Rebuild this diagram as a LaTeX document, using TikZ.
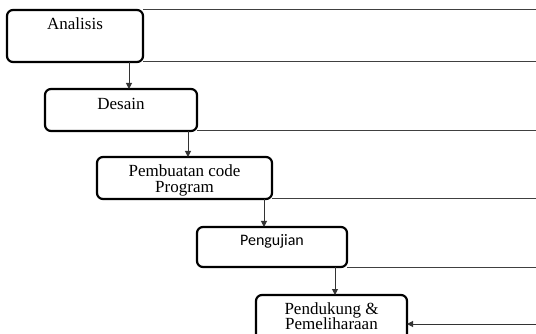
\documentclass[tikz,border=0pt]{standalone}
\usepackage{fontspec}
\setmainfont{Liberation Serif}
\newfontfamily\calibrifont{Carlito}
\usetikzlibrary{arrows.meta}

\begin{document}
\begin{tikzpicture}[x=1pt, y=-1pt,
	stage/.style={draw=black, line width=2.2pt, rounded corners=6pt,
		anchor=north west, inner xsep=0pt, inner ysep=0pt, outer sep=0pt,
		align=center, font=\fontsize{17}{15.5}\selectfont},
	rail/.style={draw=black!75, line width=1pt},
	flow/.style={draw=black!80, line width=1pt,
		-{Triangle[length=6pt, width=6pt]}}]
			\useasboundingbox (0,0) rectangle (536,334);
			\coordinate (edge) at (536,0);
			\coordinate (back) at (536,324);
			
			% the five stages
			\node[stage, minimum width=136pt, text height=20pt, text depth=32pt]
			(ana) at (7,10) {Analisis};
			\node[stage, minimum width=152pt, text height=21pt, text depth=21pt]
			(des) at (45,89) {Desain};
			\node[stage, minimum width=175pt, text height=35.5pt, text depth=6.5pt]
			(prog) at (97,157) {Pembuatan code\\Program};
			\node[stage, minimum width=150pt, text height=18pt, text depth=22pt,
			font=\calibrifont\fontsize{16}{16}\selectfont]
			(uji) at (197,227) {Pengujian};
			\node[stage, minimum width=151pt, text height=34.5pt, text depth=16pt]
			(pel) at (256,295) {Pendukung \&\\Pemeliharaan};
			
			% rails to the right edge
			\draw[rail] (ana.north east) -- (ana.north east -| edge);
			\draw[rail] (ana.south east) -- (ana.south east -| edge);
			\draw[rail] (des.south east) -- (des.south east -| edge);
			\draw[rail] (prog.south east) -- (prog.south east -| edge);
			\draw[rail] (uji.south east) -- (uji.south east -| edge);
			
			% arrows down the steps
			\draw[flow] ([xshift=-14pt]ana.south east) -- ([xshift=-14pt]ana.south east |- des.north);
			\draw[flow] ([xshift=-9pt]des.south east) -- ([xshift=-9pt]des.south east |- prog.north);
			\draw[flow] ([xshift=-8pt]prog.south east) -- ([xshift=-8pt]prog.south east |- uji.north);
			\draw[flow] ([xshift=-12pt]uji.south east) -- ([xshift=-12pt]uji.south east |- pel.north);
			\draw[flow] (back) -- (back -| pel.east);
\end{tikzpicture}
\end{document}
